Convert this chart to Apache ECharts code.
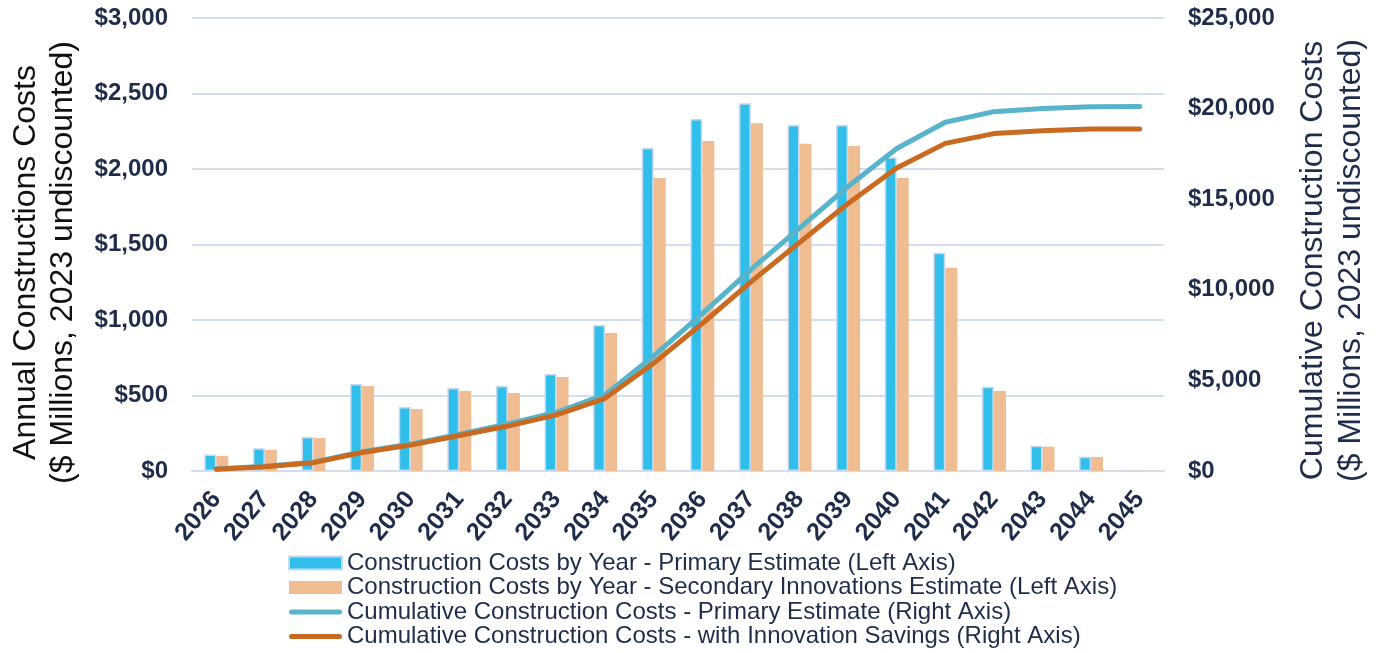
<!DOCTYPE html>
<html>
<head>
<meta charset="utf-8">
<script src="https://cdn.jsdelivr.net/npm/echarts@6/dist/echarts.min.js"></script>
<style>
  html, body { margin: 0; padding: 0; background: #fff; }
  #chart { width: 1383px; height: 653px; }
</style>
</head>
<body>
<div id="chart"></div>
<script>
// chart data
var years = ['2026', '2027', '2028', '2029', '2030', '2031', '2032', '2033', '2034', '2035',
             '2036', '2037', '2038', '2039', '2040', '2041', '2042', '2043', '2044', '2045'];
var primaryAnnual = [110, 150, 225, 576, 424, 550, 563, 642, 967, 2139,
                     2331, 2435, 2291, 2291, 2077, 1446, 558, 168, 95, 0];
var secondaryAnnual = [100, 140, 218, 563, 410, 530, 516, 622, 914, 1940,
                       2185, 2303, 2168, 2152, 1940, 1346, 530, 161, 93, 0];
var primaryCumulative = [110, 260, 485, 1060, 1485, 2035, 2600, 3240, 4210, 6350,
                         8680, 11110, 13400, 15700, 17800, 19250, 19830, 20000, 20100, 20120];
var savingsCumulative = [100, 240, 460, 1020, 1430, 1960, 2480, 3100, 4010, 5950,
                         8140, 10440, 12610, 14760, 16720, 18080, 18620, 18780, 18870, 18880];
var leftTicks = [0, 500, 1000, 1500, 2000, 2500, 3000];
var rightTicks = [0, 5000, 10000, 15000, 20000, 25000];

var FONT = 'Liberation Sans, Arial, sans-serif';
var NAVY = '#1f2d4a';
var GRID = '#d3ddef';
// thick round-capped stroke for the line entries of the legend (box kept 53 x 13)
var LINE_ICON = 'path://M0,0 M53,13 M2.5,4 L50.5,4 A2.5,2.5 0 0 1 50.5,9 L2.5,9 A2.5,2.5 0 0 1 2.5,4 Z';

var names = [
  'Construction Costs by Year - Primary Estimate (Left Axis)',
  'Construction Costs by Year - Secondary Innovations Estimate (Left Axis)',
  'Cumulative Construction Costs - Primary Estimate (Right Axis)',
  'Cumulative Construction Costs - with Innovation Savings (Right Axis)'
];

function money(v) {
  return '$' + v.toLocaleString('en-US');
}

var myChart = echarts.init(document.getElementById('chart'));

myChart.setOption({
  animation: false,
  textStyle: { fontFamily: FONT },
  grid: { left: 187, right: 219, top: 18, bottom: 182 },
  legend: {
    orient: 'vertical',
    left: 283,
    top: 546,
    height: 110,
    itemWidth: 53,
    itemHeight: 13,
    itemGap: 0.5,
    textStyle: { fontFamily: FONT, fontSize: 24, color: NAVY, lineHeight: 24 },
    data: [
      { name: names[0], icon: 'rect' },
      { name: names[1], icon: 'rect' },
      { name: names[2], icon: LINE_ICON },
      { name: names[3], icon: LINE_ICON }
    ]
  },
  xAxis: {
    type: 'category',
    data: years,
    axisLine: { lineStyle: { color: GRID, width: 2 } },
    axisTick: { show: false },
    axisLabel: {
      rotate: 50,
      margin: 24,
      fontFamily: FONT,
      fontSize: 25,
      fontWeight: 'bold',
      color: NAVY,
      interval: 0
    }
  },
  yAxis: [
    {
      type: 'value',
      min: leftTicks[0],
      max: leftTicks[leftTicks.length - 1],
      interval: 500,
      name: 'Annual Constructions Costs\n($ Millions, 2023 undiscounted)',
      nameLocation: 'middle',
      nameRotate: 90,
      nameGap: 110,
      nameTextStyle: { fontFamily: FONT, fontSize: 32, color: '#111', lineHeight: 37, padding: [0, 36, 0, 0] },
      axisLine: { show: false },
      axisTick: { show: false },
      splitLine: { lineStyle: { color: GRID, width: 2 } },
      axisLabel: {
        margin: 24,
        fontFamily: FONT,
        fontSize: 24,
        fontWeight: 'bold',
        color: NAVY,
        formatter: money
      }
    },
    {
      type: 'value',
      min: rightTicks[0],
      max: rightTicks[rightTicks.length - 1],
      interval: 5000,
      name: 'Cumulative Construction Costs\n($ Millions, 2023 undiscounted)',
      nameLocation: 'middle',
      nameRotate: 90,
      nameGap: 130,
      nameTextStyle: { fontFamily: FONT, fontSize: 32, color: NAVY, lineHeight: 38, padding: [0, 32, 0, 0] },
      axisLine: { show: false },
      axisTick: { show: false },
      splitLine: { show: false },
      axisLabel: {
        margin: 24,
        fontFamily: FONT,
        fontSize: 24,
        fontWeight: 'bold',
        color: NAVY,
        formatter: money
      }
    }
  ],
  series: [
    {
      name: names[0],
      type: 'bar',
      yAxisIndex: 0,
      barWidth: 12,
      barGap: '0%',
      data: primaryAnnual,
      itemStyle: { color: '#2fbfea', borderColor: '#c8d8ef', borderWidth: 1.5 }
    },
    {
      name: names[1],
      type: 'bar',
      yAxisIndex: 0,
      barWidth: 12,
      data: secondaryAnnual,
      itemStyle: { color: '#f0bd92' }
    },
    {
      name: names[2],
      type: 'line',
      yAxisIndex: 1,
      symbol: 'none',
      data: primaryCumulative,
      lineStyle: { color: '#58b4cb', width: 5, cap: 'round' },
      itemStyle: { color: '#58b4cb' },
      z: 3
    },
    {
      name: names[3],
      type: 'line',
      yAxisIndex: 1,
      symbol: 'none',
      data: savingsCumulative,
      lineStyle: { color: '#c96a20', width: 5, cap: 'round' },
      itemStyle: { color: '#c96a20' },
      z: 4
    }
  ]
});
</script>
</body>
</html>
